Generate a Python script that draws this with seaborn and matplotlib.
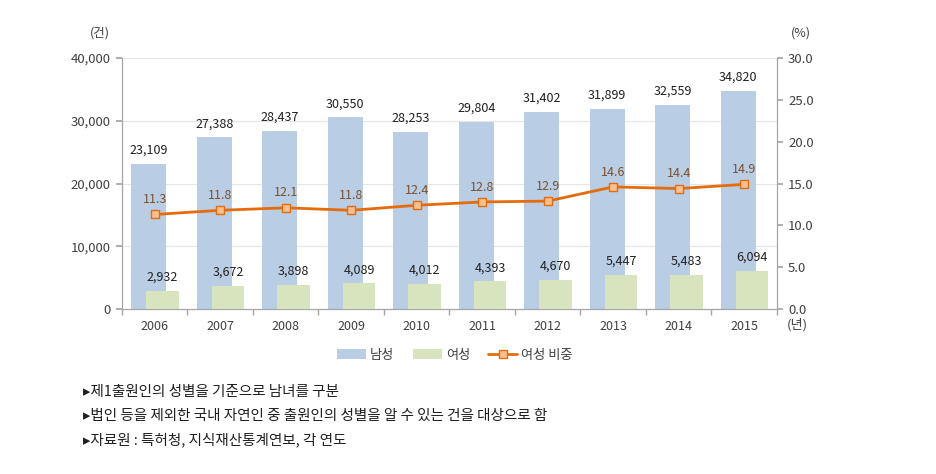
import numpy as np
import pandas as pd
import matplotlib
matplotlib.use("Agg")
import matplotlib.pyplot as plt
import seaborn as sns
from matplotlib.patches import Patch
from matplotlib.lines import Line2D

# 데이터
years = [2006, 2007, 2008, 2009, 2010, 2011, 2012, 2013, 2014, 2015]
male = [23109, 27388, 28437, 30550, 28253, 29804, 31402, 31899, 32559, 34820]
female = [2932, 3672, 3898, 4089, 4012, 4393, 4670, 5447, 5483, 6094]
female_ratio = [11.3, 11.8, 12.1, 11.8, 12.4, 12.8, 12.9, 14.6, 14.4, 14.9]
series_names = ["남성", "여성", "여성 비중"]
notes = [
    "▸제1출원인의 성별을 기준으로 남녀를 구분",
    "▸법인 등을 제외한 국내 자연인 중 출원인의 성별을 알 수 있는 건을 대상으로 함",
    "▸자료원 : 특허청, 지식재산통계연보, 각 연도",
]

MALE_C = "#B9CDE5"
FEMALE_C = "#D7E4BD"
LINE_C = "#E46C0A"
MARK_FACE = "#FAC090"
TEXT_C = "#404040"
GRID_C = "#E6E6E6"
SPINE_C = "#A6A6A6"

sns.set_theme(style="white")
plt.rcParams["font.family"] = ["Noto Sans CJK KR", "DejaVu Sans"]

fig = plt.figure(figsize=(9.36, 4.74), dpi=100)
ax = fig.add_axes([0.1303, 0.348, 0.6997, 0.5296])

df = pd.DataFrame({"year": years, "male": male, "female": female, "ratio": female_ratio})
df["x_m"] = df["year"] - 0.09
df["x_f"] = df["year"] + 0.12

sns.barplot(data=df, x="x_m", y="male", native_scale=True, width=0.53,
            color=MALE_C, saturation=1, linewidth=0, ax=ax, zorder=2)
sns.barplot(data=df, x="x_f", y="female", native_scale=True, width=0.5,
            color=FEMALE_C, saturation=1, linewidth=0, ax=ax, zorder=3)

ax.set_xlim(years[0] - 0.5, years[-1] + 0.5)
ax.set_ylim(0, 40000)
ax.set_yticks([0, 10000, 20000, 30000, 40000])
ax.set_yticklabels([f"{v:,}" for v in [0, 10000, 20000, 30000, 40000]])
ax.set_xticks(years)
ax.set_xticklabels([str(y) for y in years])
ax.set_xticks([y - 0.5 for y in years] + [years[-1] + 0.5], minor=True)
ax.tick_params(axis="x", which="major", length=0, pad=8, labelsize=9, labelcolor=TEXT_C)
ax.tick_params(axis="x", which="minor", length=4, direction="out", color=SPINE_C, bottom=True)
ax.tick_params(axis="y", length=4, direction="out", color=SPINE_C, left=True, labelsize=9.5,
               labelcolor=TEXT_C, pad=4)
ax.set_xlabel("")
ax.set_ylabel("")
ax.yaxis.grid(True, color=GRID_C, linewidth=0.8)
ax.set_axisbelow(True)
for s in ["top", "right"]:
    ax.spines[s].set_visible(False)
for s in ["left", "bottom"]:
    ax.spines[s].set_color(SPINE_C)
    ax.spines[s].set_linewidth(0.9)

for xm, v in zip(df["x_m"], male):
    ax.annotate(f"{v:,}", (xm, v), xytext=(0, 5), textcoords="offset points",
                ha="center", va="bottom", fontsize=9, color="#202020", zorder=5)
for xf, v in zip(df["x_f"], female):
    ax.annotate(f"{v:,}", (xf, v), xytext=(0, 5), textcoords="offset points",
                ha="center", va="bottom", fontsize=9, color="#202020", zorder=5)

ax2 = ax.twinx()
sns.lineplot(data=df, x="year", y="ratio", ax=ax2, color=LINE_C, linewidth=2,
             marker="s", markersize=5.5, markerfacecolor=MARK_FACE,
             markeredgecolor=LINE_C, markeredgewidth=1)
ax2.set_ylim(0, 30)
ax2.set_yticks([0, 5, 10, 15, 20, 25, 30])
ax2.set_yticklabels([f"{v:.1f}" for v in [0, 5, 10, 15, 20, 25, 30]])
ax2.tick_params(axis="y", length=4, direction="out", color=SPINE_C, right=True, labelsize=9.5,
                labelcolor=TEXT_C, pad=4)
ax2.set_xlabel("")
ax2.set_ylabel("")
ax2.grid(False)
for s in ["top", "left", "bottom"]:
    ax2.spines[s].set_visible(False)
ax2.spines["right"].set_color(SPINE_C)
ax2.spines["right"].set_linewidth(0.9)
ax2.set_xlim(years[0] - 0.5, years[-1] + 0.5)

for x, v in zip(years, female_ratio):
    ax2.annotate(f"{v:.1f}", (x, v), xytext=(0, 6), textcoords="offset points",
                 ha="center", va="bottom", fontsize=9, color="#7a5230")

# 단위 표시
fig.text(100 / 936, 1 - 33 / 474, "(건)", ha="center", va="center", fontsize=9, color=TEXT_C)
fig.text(801 / 936, 1 - 33 / 474, "(%)", ha="center", va="center", fontsize=9, color=TEXT_C)
fig.text(797 / 936, 1 - 325 / 474, "(년)", ha="center", va="center", fontsize=9.5, color=TEXT_C)

handles = [
    Patch(facecolor=MALE_C, edgecolor="none"),
    Patch(facecolor=FEMALE_C, edgecolor="none"),
    Line2D([0], [0], color=LINE_C, linewidth=2, marker="s", markersize=5.5,
           markerfacecolor=MARK_FACE, markeredgecolor=LINE_C),
]
fig.legend(handles, series_names, loc="center", bbox_to_anchor=(455 / 936, 1 - 355 / 474),
           ncol=3, frameon=False, fontsize=9.5, handlelength=2.2, handleheight=0.7,
           columnspacing=1.4, handletextpad=0.3, labelcolor=TEXT_C)

for i, t in enumerate(notes):
    fig.text(83 / 936, 1 - (392 + 24 * i) / 474, t, ha="left", va="center",
             fontsize=10.5, color="#202020")

fig.savefig("out.png", dpi=100)
